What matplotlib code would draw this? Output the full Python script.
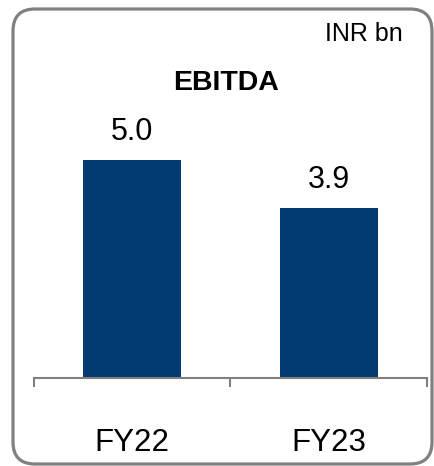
import matplotlib
matplotlib.use("Agg")
import matplotlib.pyplot as plt
from matplotlib.patches import FancyBboxPatch
from matplotlib.ticker import FixedLocator

plt.rcParams['font.family'] = ['Liberation Sans', 'DejaVu Sans']

categories = ['FY22', 'FY23']
values = [5.0, 3.9]
value_labels = ['5.0', '3.9']
title = 'EBITDA'
unit = 'INR bn'

bar_color = '#023A72'
grey = '#808080'

W, H = 435, 466
fig = plt.figure(figsize=(W / 100, H / 100), dpi=100)

# rounded frame drawn in pixel coordinates on a background axes
bg = fig.add_axes([0, 0, 1, 1])
bg.set_xlim(0, W)
bg.set_ylim(H, 0)
bg.axis('off')
bg.add_patch(FancyBboxPatch((13, 9), 419, 455,
                            boxstyle='round,pad=0,rounding_size=22',
                            fill=False, edgecolor=grey, linewidth=2.3))
bg.text(403, 34, unit, ha='right', va='center', fontsize=18)
bg.text(226, 83, title, ha='center', va='center', fontsize=20.5, fontweight='bold')

# bar axes
left, right, base, top = 34, 427, 378, 100
ax = fig.add_axes([left / W, 1 - base / H, (right - left) / W, (base - top) / H])
ax.patch.set_alpha(0)
x = range(len(categories))
bars = ax.bar(x, values, width=0.5, color=bar_color)
ax.set_xlim(-0.5, len(categories) - 0.5)
ax.set_ylim(0, (base - top) / 43.7)

for s in ['top', 'left', 'right']:
    ax.spines[s].set_visible(False)
ax.spines['bottom'].set_color(grey)
ax.spines['bottom'].set_linewidth(1.5)
ax.set_yticks([])

ax.set_xticks(list(x))
ax.set_xticklabels(categories, fontsize=22.5)
ax.tick_params(axis='x', which='major', length=0, pad=36)
ax.xaxis.set_minor_locator(FixedLocator([-0.5, 0.5, 1.5]))
ax.tick_params(axis='x', which='minor', length=6.5, width=1.5, color=grey, direction='out')

ax.bar_label(bars, labels=value_labels, padding=9, fontsize=22)

fig.savefig('out.png', dpi=100)
